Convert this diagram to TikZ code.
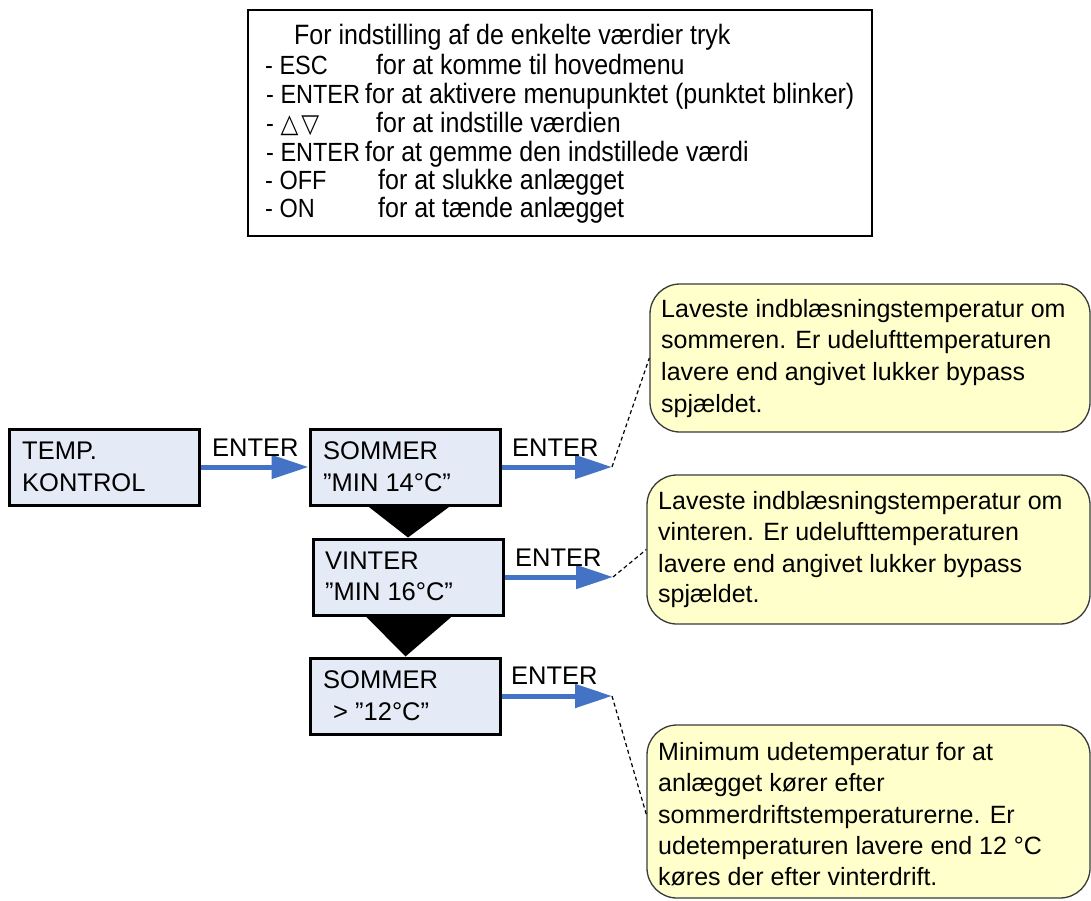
\documentclass[tikz,border=0pt]{standalone}
\usepackage{fontspec}
\setmainfont{Liberation Sans}
\newfontfamily\symfont{DejaVu Sans}
\newfontfamily\legendfont[FakeStretch=0.8929]{Liberation Sans}
\newfontfamily\legendsym[FakeStretch=0.8929]{DejaVu Sans}
\usetikzlibrary{arrows.meta,calc}
\definecolor{boxfill}{HTML}{E5EBF6}
\definecolor{flowblue}{HTML}{4472C4}
\definecolor{notefill}{HTML}{FFFFCC}
\definecolor{noteline}{HTML}{3A3A3A}
\tikzset{
  frame/.style={draw=black, line width=2.2pt, fill=white, inner sep=0pt},
  box/.style={draw=black, line width=3pt, fill=boxfill, inner sep=0pt, minimum width=190pt, minimum height=76pt},
  note/.style={draw=noteline, line width=1.3pt, fill=notefill, rounded corners=30pt, inner sep=0pt},
  toptxt/.style={anchor=base west, inner sep=0pt, font=\legendfont\fontsize{28}{30}\selectfont},
  keytxt/.style={anchor=base west, inner sep=0pt, font=\legendfont\fontsize{26.3}{30}\selectfont},
  lbl/.style={anchor=base west, inner sep=0pt, font=\fontsize{25.5}{32}\selectfont},
  notetxt/.style={anchor=base west, inner sep=0pt, font=\fontsize{25}{31}\selectfont},
  flow/.style={draw=flowblue, line width=5pt, -{Triangle[length=37pt,width=23pt]}},
  leader/.style={draw=black, line width=1.2pt, dash pattern=on 4pt off 3pt},
  tri/.style={fill=black}
}
\begin{document}
\begin{tikzpicture}[x=1pt,y=-1pt]
\path[use as bounding box] (0,0) rectangle (1091,901);

% legend frame
\node[frame, minimum width=624pt, minimum height=226pt] (legend) at (560,123) {};
\node[toptxt] (h0) at (294,45) {For indstilling af de enkelte værdier tryk};
\node[keytxt] (k1) at (265,75) {- ESC};
\node[toptxt] (d1) at (376,75) {for at komme til hovedmenu};
\node[keytxt] (k2) at (266,104) {- ENTER};
\node[toptxt] (d2) at (365,104) {for at aktivere menupunktet (punktet blinker)};
\node[keytxt] (k3) at (266,133) {- {\legendsym\fontsize{26}{28}\selectfont △\hspace{3pt}▽}};
\node[toptxt] (d3) at (376,133) {for at indstille værdien};
\node[keytxt] (k4) at (266,162) {- ENTER};
\node[toptxt] (d4) at (365,162) {for at gemme den indstillede værdi};
\node[keytxt] (k5) at (265,190) {- OFF};
\node[toptxt] (d5) at (378,190) {for at slukke anlægget};
\node[keytxt] (k6) at (265,218) {- ON};
\node[toptxt] (d6) at (378,218) {for at tænde anlægget};

% flow boxes
\node[box] (temp) at (104,467) {};
\node[box] (s1) at (405,467) {};
\node[box] (v) at (408,577) {};
\node[box] (s2) at (405.5,696) {};

\node[lbl] (tA) at (22,459) {TEMP.};
\node[lbl] (tB) at (22,491) {KONTROL};
\node[lbl] (s1A) at (323,459) {SOMMER};
\node[lbl] (s1B) at (323,491) {”MIN 14°C”};
\node[lbl] (vA) at (325,569) {VINTER};
\node[lbl] (vB) at (325,600) {”MIN 16°C”};
\node[lbl] (s2A) at (323,688) {SOMMER};
\node[lbl] (s2B) at (333,720) {> ”12°C”};

% triangles between boxes
\fill[tri] ($(s1.south)+(-38,-1)$) -- ($(s1.south)+(46,-1)$) -- (v.north) -- cycle;
\fill[tri] ($(v.south)+(-43,-1)$) -- ($(v.south)+(45,-1)$) -- (s2.north) -- cycle;

% arrows
\coordinate (e1) at (612,467);
\coordinate (e2) at (613,577);
\coordinate (e3) at (612,696);
\draw[flow] (temp.east) -- (s1.west);
\draw[flow] (s1.east) -- (e1);
\draw[flow] (v.east) -- (e2);
\draw[flow] (s2.east) -- (e3);

\node[lbl] (en0) at (212,456) {ENTER};
\node[lbl] (en1) at (512,456) {ENTER};
\node[lbl] (en2) at (515,566) {ENTER};
\node[lbl] (en3) at (511,684) {ENTER};

% callouts
\node[note, minimum width=440pt, minimum height=148pt] (c1) at (870,358) {};
\node[note, minimum width=443pt, minimum height=149pt] (c2) at (868.5,549.5) {};
\node[note, minimum width=443pt, minimum height=173pt] (c3) at (868.5,811.5) {};

\draw[leader] (e1) -- (c1.west);
\draw[leader] (e2) -- (c2.west);
\draw[leader] (e3) -- ($(c3.west)+(0,3)$);

\node[notetxt] (n1a) at (661,317) {Laveste indblæsningstemperatur om};
\node[notetxt] (n1b) at (661,348) {sommeren. Er udelufttemperaturen};
\node[notetxt] (n1c) at (661,380) {lavere end angivet lukker bypass};
\node[notetxt] (n1d) at (661,412) {spjældet.};

\node[notetxt] (n2a) at (658,509) {Laveste indblæsningstemperatur om};
\node[notetxt] (n2b) at (658,540) {vinteren. Er udelufttemperaturen};
\node[notetxt] (n2c) at (658,572) {lavere end angivet lukker bypass};
\node[notetxt] (n2d) at (658,602) {spjældet.};

\node[notetxt] (n3a) at (658,760) {Minimum udetemperatur for at};
\node[notetxt] (n3b) at (658,791) {anlægget kører efter};
\node[notetxt] (n3c) at (658,823) {sommerdriftstemperaturerne. Er};
\node[notetxt] (n3d) at (658,854) {udetemperaturen lavere end 12 °C};
\node[notetxt] (n3e) at (658,885) {køres der efter vinterdrift.};
\end{tikzpicture}
\end{document}
